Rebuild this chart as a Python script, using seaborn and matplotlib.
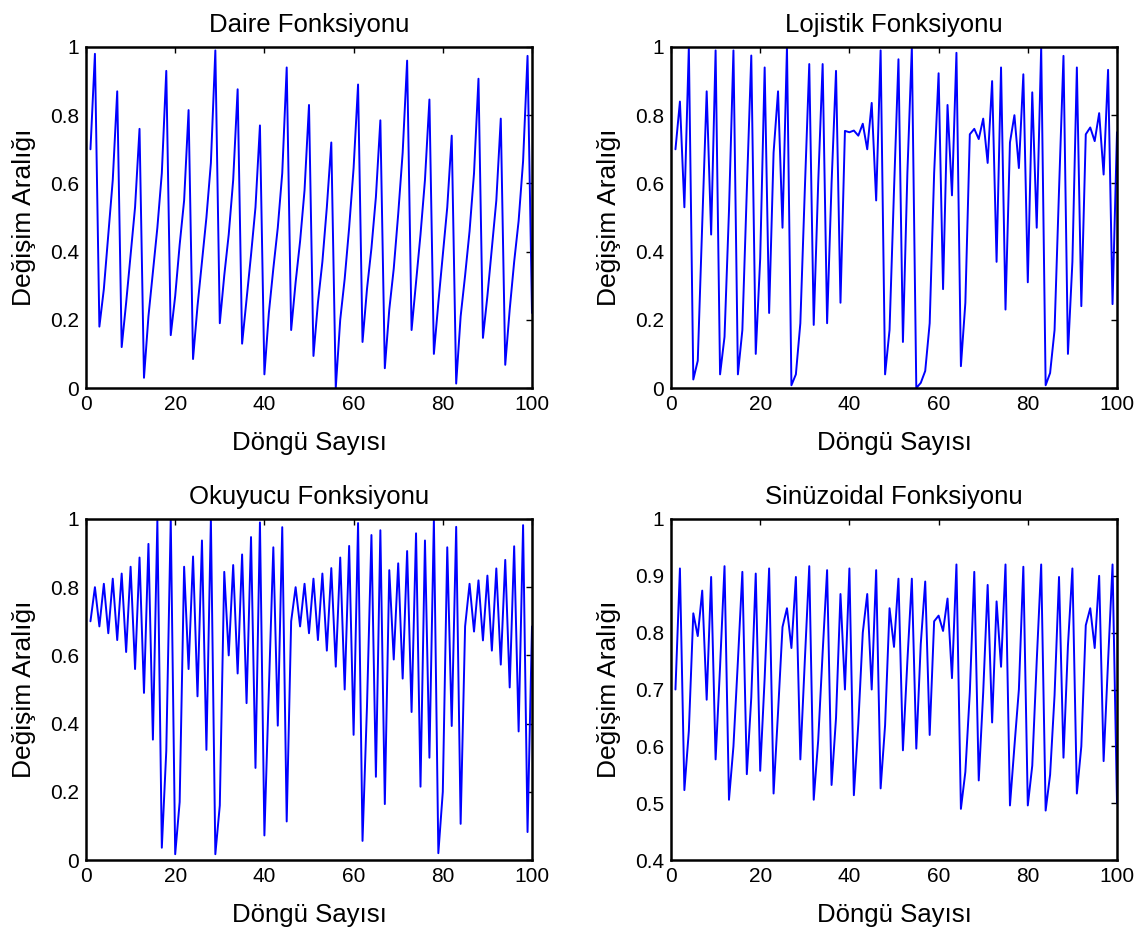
import numpy as np
import pandas as pd
import matplotlib
matplotlib.use("Agg")
import matplotlib.pyplot as plt
import seaborn as sns

iterations = list(range(1, 101))

daire = [0.70, 0.98, 0.18, 0.29, 0.45, 0.61, 0.87, 0.12, 0.25, 0.39,
         0.53, 0.76, 0.03, 0.21, 0.34, 0.47, 0.63, 0.93, 0.155, 0.27,
         0.42, 0.55, 0.815, 0.085, 0.24, 0.37, 0.50, 0.66, 0.99, 0.19,
         0.33, 0.45, 0.61, 0.876, 0.13, 0.26, 0.39, 0.53, 0.77, 0.04,
         0.22, 0.35, 0.47, 0.63, 0.94, 0.17, 0.31, 0.43, 0.58, 0.83,
         0.094, 0.25, 0.37, 0.53, 0.72, 0.0, 0.20, 0.32, 0.47, 0.645,
         0.89, 0.135, 0.29, 0.41, 0.56, 0.785, 0.058, 0.23, 0.35, 0.51,
         0.69, 0.96, 0.17, 0.31, 0.45, 0.61, 0.846, 0.10, 0.25, 0.39,
         0.53, 0.74, 0.013, 0.21, 0.33, 0.46, 0.63, 0.907, 0.147, 0.27,
         0.41, 0.55, 0.79, 0.068, 0.23, 0.37, 0.49, 0.665, 0.974, 0.22]

lojistik = [0.70, 0.84, 0.53, 1.0, 0.025, 0.08, 0.48, 0.87, 0.45, 0.99,
            0.04, 0.15, 0.52, 0.99, 0.04, 0.17, 0.58, 0.975, 0.10, 0.38,
            0.94, 0.22, 0.69, 0.87, 0.47, 1.0, 0.008, 0.04, 0.19, 0.58,
            0.95, 0.185, 0.60, 0.95, 0.19, 0.60, 0.93, 0.25, 0.754, 0.75,
            0.755, 0.74, 0.775, 0.70, 0.836, 0.55, 0.99, 0.04, 0.17, 0.58,
            0.964, 0.135, 0.63, 1.0, 0.0, 0.015, 0.05, 0.19, 0.63, 0.923,
            0.29, 0.83, 0.565, 0.983, 0.064, 0.25, 0.744, 0.76, 0.73, 0.79,
            0.66, 0.90, 0.37, 0.94, 0.23, 0.72, 0.80, 0.645, 0.92, 0.31,
            0.867, 0.47, 1.0, 0.008, 0.044, 0.17, 0.58, 0.974, 0.10, 0.37,
            0.94, 0.24, 0.744, 0.764, 0.724, 0.806, 0.626, 0.933, 0.246, 0.75]

okuyucu = [0.70, 0.80, 0.685, 0.81, 0.665, 0.825, 0.645, 0.84, 0.61, 0.86,
           0.56, 0.887, 0.49, 0.927, 0.353, 0.995, 0.036, 0.32, 1.0, 0.017,
           0.17, 0.86, 0.56, 0.89, 0.48, 0.937, 0.323, 1.0, 0.017, 0.16,
           0.845, 0.60, 0.865, 0.547, 0.896, 0.46, 0.947, 0.27, 0.99, 0.072,
           0.50, 0.917, 0.394, 0.976, 0.113, 0.70, 0.80, 0.685, 0.81, 0.665,
           0.825, 0.645, 0.84, 0.614, 0.856, 0.567, 0.887, 0.50, 0.921, 0.367,
           0.988, 0.056, 0.45, 0.953, 0.244, 0.967, 0.164, 0.85, 0.588, 0.87,
           0.532, 0.906, 0.434, 0.958, 0.215, 0.937, 0.30, 0.998, 0.02, 0.20,
           0.917, 0.393, 0.977, 0.106, 0.685, 0.81, 0.67, 0.82, 0.644, 0.834,
           0.614, 0.855, 0.573, 0.88, 0.506, 0.92, 0.377, 0.982, 0.082, 0.685]

sinuzoidal = [0.70, 0.913, 0.523, 0.627, 0.834, 0.794, 0.874, 0.682, 0.898, 0.577,
              0.74, 0.917, 0.506, 0.60, 0.75, 0.907, 0.551, 0.686, 0.904, 0.557,
              0.72, 0.913, 0.517, 0.66, 0.81, 0.843, 0.773, 0.898, 0.577, 0.75,
              0.917, 0.506, 0.61, 0.765, 0.91, 0.532, 0.65, 0.868, 0.70, 0.913,
              0.514, 0.64, 0.80, 0.868, 0.70, 0.91, 0.526, 0.637, 0.843, 0.775,
              0.895, 0.593, 0.75, 0.895, 0.596, 0.78, 0.89, 0.62, 0.82, 0.83,
              0.803, 0.86, 0.72, 0.92, 0.49, 0.555, 0.695, 0.907, 0.54, 0.695,
              0.884, 0.642, 0.855, 0.74, 0.92, 0.496, 0.60, 0.70, 0.916, 0.496,
              0.566, 0.75, 0.92, 0.487, 0.55, 0.69, 0.898, 0.58, 0.777, 0.913,
              0.517, 0.60, 0.813, 0.843, 0.773, 0.90, 0.574, 0.75, 0.92, 0.50]

titles = ["Daire Fonksiyonu", "Lojistik Fonksiyonu", "Okuyucu Fonksiyonu", "Sinüzoidal Fonksiyonu"]
series = [daire, lojistik, okuyucu, sinuzoidal]
ylims = [(0, 1), (0, 1), (0, 1), (0.4, 1)]
yticks = [[0, 0.2, 0.4, 0.6, 0.8, 1], [0, 0.2, 0.4, 0.6, 0.8, 1],
          [0, 0.2, 0.4, 0.6, 0.8, 1], [0.4, 0.5, 0.6, 0.7, 0.8, 0.9, 1]]
xticks = [0, 20, 40, 60, 80, 100]
xlabel = "Döngü Sayısı"
ylabel = "Değişim Aralığı"

sns.set_theme(style="white")
plt.rcParams['font.family'] = ['Liberation Sans', 'DejaVu Sans']

W, H = 1148, 932
fig = plt.figure(figsize=(W / 100, H / 100), dpi=100)

boxes = [(86, 47), (671, 47), (86, 519), (671, 519)]
aw, ah = 446, 341


def fmt(v):
    return "%g" % v


for i in range(4):
    L, T = boxes[i]
    ax = fig.add_axes([L / W, 1 - (T + ah) / H, aw / W, ah / H])
    df = pd.DataFrame({"x": iterations, "y": series[i]})
    sns.lineplot(data=df, x="x", y="y", ax=ax, color="#0000ff", linewidth=1.4)
    ax.set_xlim(0, 100)
    ax.set_ylim(*ylims[i])
    ax.set_xticks(xticks)
    ax.set_xticklabels([fmt(v) for v in xticks])
    ax.set_yticks(yticks[i])
    ax.set_yticklabels([fmt(v) for v in yticks[i]])
    ax.tick_params(direction="in", length=4, width=1, colors="black",
                   labelsize=15, top=True, right=True, pad=5)
    for sp in ax.spines.values():
        sp.set_color("black")
        sp.set_linewidth(1.8)
    ax.set_title(titles[i], fontsize=18.5, color="black", pad=11)
    ax.set_xlabel(xlabel, fontsize=18.5, color="black", labelpad=12)
    ax.set_ylabel(ylabel, fontsize=19, color="black", labelpad=10)

fig.savefig("out.png", dpi=100, facecolor="white")
